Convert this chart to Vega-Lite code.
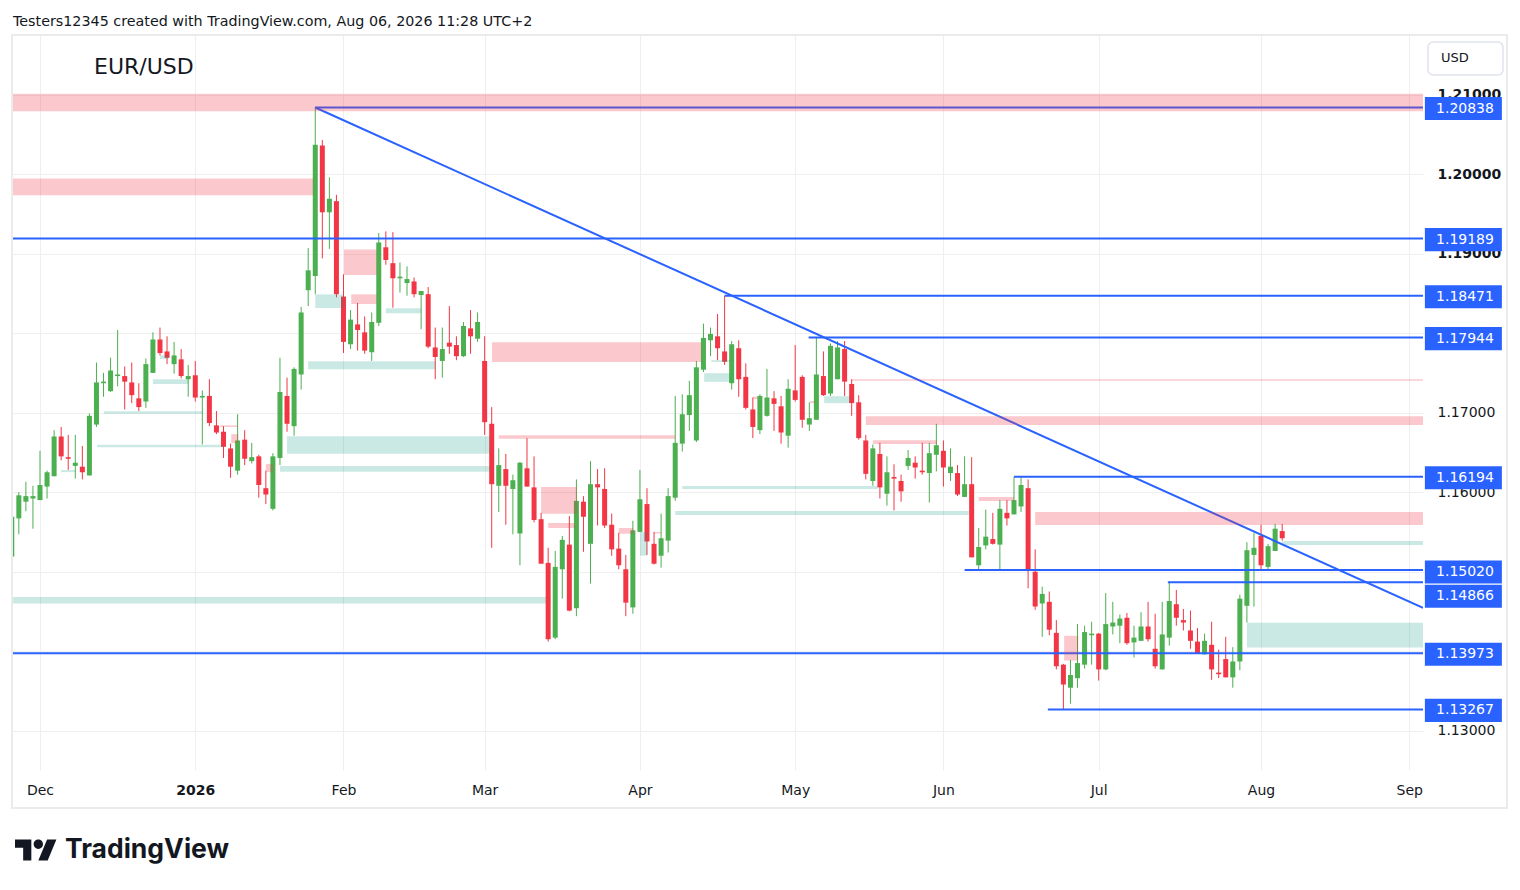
{
  "$schema": "https://vega.github.io/schema/vega-lite/v6.json",
  "width": 1411,
  "height": 735,
  "autosize": {"type": "none"},
  "padding": {"left": 12, "top": 35, "right": 97, "bottom": 120},
  "background": "white",
  "config": {"view": {"stroke": null}, "font": "DejaVu Sans"},
  "datasets": {
    "candles": [
      {"d":"2025-11-25","i":-4,"o":1.1519,"h":1.1569,"l":1.1519,"c":1.1569},
      {"d":"2025-11-26","i":-3,"o":1.1567,"h":1.1600,"l":1.1547,"c":1.1596},
      {"d":"2025-11-27","i":-2,"o":1.1588,"h":1.1613,"l":1.1576,"c":1.1595},
      {"d":"2025-11-28","i":-1,"o":1.1592,"h":1.1608,"l":1.1554,"c":1.1595},
      {"d":"2025-12-01","i":0,"o":1.1590,"h":1.1652,"l":1.1590,"c":1.1609},
      {"d":"2025-12-02","i":1,"o":1.1607,"h":1.1627,"l":1.1592,"c":1.1625},
      {"d":"2025-12-03","i":2,"o":1.1620,"h":1.1678,"l":1.1620,"c":1.1670},
      {"d":"2025-12-04","i":3,"o":1.1670,"h":1.1682,"l":1.1640,"c":1.1645},
      {"d":"2025-12-05","i":4,"o":1.1644,"h":1.1672,"l":1.1628,"c":1.1642},
      {"d":"2025-12-08","i":5,"o":1.1633,"h":1.1672,"l":1.1617,"c":1.1637},
      {"d":"2025-12-09","i":6,"o":1.1632,"h":1.1658,"l":1.1616,"c":1.1625},
      {"d":"2025-12-10","i":7,"o":1.1621,"h":1.1699,"l":1.1621,"c":1.1696},
      {"d":"2025-12-11","i":8,"o":1.1685,"h":1.1763,"l":1.1682,"c":1.1738},
      {"d":"2025-12-12","i":9,"o":1.1737,"h":1.1750,"l":1.1720,"c":1.1739},
      {"d":"2025-12-15","i":10,"o":1.1727,"h":1.1769,"l":1.1726,"c":1.1753},
      {"d":"2025-12-16","i":11,"o":1.1746,"h":1.1804,"l":1.1733,"c":1.1748},
      {"d":"2025-12-17","i":12,"o":1.1746,"h":1.1758,"l":1.1704,"c":1.1739},
      {"d":"2025-12-18","i":13,"o":1.1738,"h":1.1763,"l":1.1712,"c":1.1722},
      {"d":"2025-12-19","i":14,"o":1.1718,"h":1.1737,"l":1.1702,"c":1.1707},
      {"d":"2025-12-22","i":15,"o":1.1714,"h":1.1768,"l":1.1706,"c":1.1761},
      {"d":"2025-12-23","i":16,"o":1.1750,"h":1.1801,"l":1.1750,"c":1.1792},
      {"d":"2025-12-24","i":17,"o":1.1792,"h":1.1807,"l":1.1772,"c":1.1775},
      {"d":"2025-12-26","i":18,"o":1.1777,"h":1.1796,"l":1.1761,"c":1.1769},
      {"d":"2025-12-29","i":19,"o":1.1761,"h":1.1789,"l":1.1749,"c":1.1772},
      {"d":"2025-12-30","i":20,"o":1.1767,"h":1.1780,"l":1.1743,"c":1.1746},
      {"d":"2025-12-31","i":21,"o":1.1742,"h":1.1760,"l":1.1720,"c":1.1746},
      {"d":"2026-01-02","i":22,"o":1.1747,"h":1.1765,"l":1.1714,"c":1.1719},
      {"d":"2026-01-05","i":23,"o":1.1719,"h":1.1728,"l":1.1660,"c":1.1721},
      {"d":"2026-01-06","i":24,"o":1.1721,"h":1.1742,"l":1.1683,"c":1.1687},
      {"d":"2026-01-07","i":25,"o":1.1684,"h":1.1702,"l":1.1673,"c":1.1675},
      {"d":"2026-01-08","i":26,"o":1.1676,"h":1.1683,"l":1.1643,"c":1.1657},
      {"d":"2026-01-09","i":27,"o":1.1655,"h":1.1661,"l":1.1618,"c":1.1632},
      {"d":"2026-01-12","i":28,"o":1.1627,"h":1.1698,"l":1.1622,"c":1.1665},
      {"d":"2026-01-13","i":29,"o":1.1666,"h":1.1678,"l":1.1634,"c":1.1642},
      {"d":"2026-01-14","i":30,"o":1.1639,"h":1.1662,"l":1.1636,"c":1.1644},
      {"d":"2026-01-15","i":31,"o":1.1645,"h":1.1647,"l":1.1593,"c":1.1609},
      {"d":"2026-01-16","i":32,"o":1.1605,"h":1.1627,"l":1.1585,"c":1.1597},
      {"d":"2026-01-19","i":33,"o":1.1579,"h":1.1649,"l":1.1577,"c":1.1645},
      {"d":"2026-01-20","i":34,"o":1.1643,"h":1.1769,"l":1.1634,"c":1.1726},
      {"d":"2026-01-21","i":35,"o":1.1721,"h":1.1744,"l":1.1676,"c":1.1686},
      {"d":"2026-01-22","i":36,"o":1.1683,"h":1.1757,"l":1.1671,"c":1.1755},
      {"d":"2026-01-23","i":37,"o":1.1748,"h":1.1833,"l":1.1729,"c":1.1826},
      {"d":"2026-01-26","i":38,"o":1.1854,"h":1.1907,"l":1.1834,"c":1.1879},
      {"d":"2026-01-27","i":39,"o":1.1872,"h":1.2084,"l":1.1849,"c":1.2037},
      {"d":"2026-01-28","i":40,"o":1.2036,"h":1.2043,"l":1.1894,"c":1.1952},
      {"d":"2026-01-29","i":41,"o":1.1952,"h":1.1996,"l":1.1906,"c":1.1969},
      {"d":"2026-01-30","i":42,"o":1.1966,"h":1.1974,"l":1.1845,"c":1.1849},
      {"d":"2026-02-02","i":43,"o":1.1846,"h":1.1874,"l":1.1775,"c":1.1789},
      {"d":"2026-02-03","i":44,"o":1.1786,"h":1.1829,"l":1.1780,"c":1.1817},
      {"d":"2026-02-04","i":45,"o":1.1811,"h":1.1838,"l":1.1778,"c":1.1804},
      {"d":"2026-02-05","i":46,"o":1.1801,"h":1.1821,"l":1.1774,"c":1.1778},
      {"d":"2026-02-06","i":47,"o":1.1776,"h":1.1826,"l":1.1765,"c":1.1814},
      {"d":"2026-02-09","i":48,"o":1.1813,"h":1.1926,"l":1.1809,"c":1.1914},
      {"d":"2026-02-10","i":49,"o":1.1908,"h":1.1928,"l":1.1886,"c":1.1892},
      {"d":"2026-02-11","i":50,"o":1.1888,"h":1.1927,"l":1.1832,"c":1.1869},
      {"d":"2026-02-12","i":51,"o":1.1869,"h":1.1889,"l":1.1851,"c":1.1871},
      {"d":"2026-02-13","i":52,"o":1.1863,"h":1.1884,"l":1.1847,"c":1.1868},
      {"d":"2026-02-16","i":53,"o":1.1865,"h":1.1870,"l":1.1845,"c":1.1849},
      {"d":"2026-02-17","i":54,"o":1.1848,"h":1.1853,"l":1.1805,"c":1.1853},
      {"d":"2026-02-18","i":55,"o":1.1849,"h":1.1858,"l":1.1781,"c":1.1783},
      {"d":"2026-02-19","i":56,"o":1.1782,"h":1.1807,"l":1.1742,"c":1.1770},
      {"d":"2026-02-20","i":57,"o":1.1765,"h":1.1807,"l":1.1744,"c":1.1780},
      {"d":"2026-02-23","i":58,"o":1.1788,"h":1.1834,"l":1.1774,"c":1.1783},
      {"d":"2026-02-24","i":59,"o":1.1785,"h":1.1796,"l":1.1766,"c":1.1771},
      {"d":"2026-02-25","i":60,"o":1.1771,"h":1.1814,"l":1.1770,"c":1.1809},
      {"d":"2026-02-26","i":61,"o":1.1806,"h":1.1829,"l":1.1774,"c":1.1796},
      {"d":"2026-02-27","i":62,"o":1.1793,"h":1.1826,"l":1.1789,"c":1.1814},
      {"d":"2026-03-02","i":63,"o":1.1765,"h":1.1796,"l":1.1672,"c":1.1688},
      {"d":"2026-03-03","i":64,"o":1.1686,"h":1.1707,"l":1.1530,"c":1.1610},
      {"d":"2026-03-04","i":65,"o":1.1608,"h":1.1655,"l":1.1575,"c":1.1634},
      {"d":"2026-03-05","i":66,"o":1.1629,"h":1.1648,"l":1.1559,"c":1.1608},
      {"d":"2026-03-06","i":67,"o":1.1604,"h":1.1622,"l":1.1547,"c":1.1615},
      {"d":"2026-03-09","i":68,"o":1.1548,"h":1.1638,"l":1.1508,"c":1.1637},
      {"d":"2026-03-10","i":69,"o":1.1630,"h":1.1668,"l":1.1607,"c":1.1607},
      {"d":"2026-03-11","i":70,"o":1.1606,"h":1.1645,"l":1.1562,"c":1.1565},
      {"d":"2026-03-12","i":71,"o":1.1566,"h":1.1574,"l":1.1510,"c":1.1510},
      {"d":"2026-03-13","i":72,"o":1.1511,"h":1.1530,"l":1.1412,"c":1.1415},
      {"d":"2026-03-16","i":73,"o":1.1417,"h":1.1526,"l":1.1415,"c":1.1506},
      {"d":"2026-03-17","i":74,"o":1.1503,"h":1.1545,"l":1.1466,"c":1.1540},
      {"d":"2026-03-18","i":75,"o":1.1534,"h":1.1570,"l":1.1450,"c":1.1451},
      {"d":"2026-03-19","i":76,"o":1.1454,"h":1.1616,"l":1.1444,"c":1.1589},
      {"d":"2026-03-20","i":77,"o":1.1588,"h":1.1595,"l":1.1525,"c":1.1569},
      {"d":"2026-03-23","i":78,"o":1.1535,"h":1.1639,"l":1.1485,"c":1.1610},
      {"d":"2026-03-24","i":79,"o":1.1610,"h":1.1629,"l":1.1558,"c":1.1606},
      {"d":"2026-03-25","i":80,"o":1.1604,"h":1.1630,"l":1.1555,"c":1.1558},
      {"d":"2026-03-26","i":81,"o":1.1559,"h":1.1573,"l":1.1520,"c":1.1528},
      {"d":"2026-03-27","i":82,"o":1.1529,"h":1.1549,"l":1.1503,"c":1.1508},
      {"d":"2026-03-30","i":83,"o":1.1503,"h":1.1521,"l":1.1444,"c":1.1461},
      {"d":"2026-03-31","i":84,"o":1.1455,"h":1.1564,"l":1.1447,"c":1.1552},
      {"d":"2026-04-01","i":85,"o":1.1550,"h":1.1628,"l":1.1550,"c":1.1591},
      {"d":"2026-04-02","i":86,"o":1.1585,"h":1.1605,"l":1.1521,"c":1.1538},
      {"d":"2026-04-03","i":87,"o":1.1535,"h":1.1550,"l":1.1509,"c":1.1510},
      {"d":"2026-04-06","i":88,"o":1.1520,"h":1.1573,"l":1.1505,"c":1.1542},
      {"d":"2026-04-07","i":89,"o":1.1539,"h":1.1605,"l":1.1524,"c":1.1595},
      {"d":"2026-04-08","i":90,"o":1.1593,"h":1.1721,"l":1.1589,"c":1.1662},
      {"d":"2026-04-09","i":91,"o":1.1661,"h":1.1723,"l":1.1651,"c":1.1698},
      {"d":"2026-04-10","i":92,"o":1.1697,"h":1.1740,"l":1.1677,"c":1.1722},
      {"d":"2026-04-13","i":93,"o":1.1665,"h":1.1765,"l":1.1663,"c":1.1757},
      {"d":"2026-04-14","i":94,"o":1.1754,"h":1.1812,"l":1.1751,"c":1.1794},
      {"d":"2026-04-15","i":95,"o":1.1791,"h":1.1807,"l":1.1771,"c":1.1799},
      {"d":"2026-04-16","i":96,"o":1.1796,"h":1.1824,"l":1.1766,"c":1.1781},
      {"d":"2026-04-17","i":97,"o":1.1777,"h":1.1847,"l":1.1760,"c":1.1764},
      {"d":"2026-04-20","i":98,"o":1.1737,"h":1.1790,"l":1.1729,"c":1.1786},
      {"d":"2026-04-21","i":99,"o":1.1781,"h":1.1791,"l":1.1720,"c":1.1742},
      {"d":"2026-04-22","i":100,"o":1.1745,"h":1.1762,"l":1.1704,"c":1.1706},
      {"d":"2026-04-23","i":101,"o":1.1704,"h":1.1719,"l":1.1668,"c":1.1682},
      {"d":"2026-04-24","i":102,"o":1.1678,"h":1.1723,"l":1.1673,"c":1.1721},
      {"d":"2026-04-27","i":103,"o":1.1696,"h":1.1755,"l":1.1695,"c":1.1719},
      {"d":"2026-04-28","i":104,"o":1.1718,"h":1.1727,"l":1.1677,"c":1.1711},
      {"d":"2026-04-29","i":105,"o":1.1708,"h":1.1721,"l":1.1661,"c":1.1675},
      {"d":"2026-04-30","i":106,"o":1.1671,"h":1.1742,"l":1.1656,"c":1.1730},
      {"d":"2026-05-01","i":107,"o":1.1728,"h":1.1785,"l":1.1714,"c":1.1716},
      {"d":"2026-05-04","i":108,"o":1.1745,"h":1.1747,"l":1.1681,"c":1.1691},
      {"d":"2026-05-05","i":109,"o":1.1685,"h":1.1713,"l":1.1677,"c":1.1693},
      {"d":"2026-05-06","i":110,"o":1.1691,"h":1.1794,"l":1.1691,"c":1.1748},
      {"d":"2026-05-07","i":111,"o":1.1746,"h":1.1777,"l":1.1721,"c":1.1722},
      {"d":"2026-05-08","i":112,"o":1.1724,"h":1.1787,"l":1.1721,"c":1.1784},
      {"d":"2026-05-11","i":113,"o":1.1742,"h":1.1790,"l":1.1742,"c":1.1782},
      {"d":"2026-05-12","i":114,"o":1.1780,"h":1.1790,"l":1.1721,"c":1.1739},
      {"d":"2026-05-13","i":115,"o":1.1736,"h":1.1742,"l":1.1696,"c":1.1712},
      {"d":"2026-05-14","i":116,"o":1.1713,"h":1.1722,"l":1.1666,"c":1.1668},
      {"d":"2026-05-15","i":117,"o":1.1665,"h":1.1672,"l":1.1616,"c":1.1623},
      {"d":"2026-05-18","i":118,"o":1.1614,"h":1.1660,"l":1.1608,"c":1.1655},
      {"d":"2026-05-19","i":119,"o":1.1648,"h":1.1662,"l":1.1592,"c":1.1606},
      {"d":"2026-05-20","i":120,"o":1.1598,"h":1.1645,"l":1.1583,"c":1.1625},
      {"d":"2026-05-21","i":121,"o":1.1619,"h":1.1635,"l":1.1577,"c":1.1617},
      {"d":"2026-05-22","i":122,"o":1.1614,"h":1.1622,"l":1.1588,"c":1.1601},
      {"d":"2026-05-25","i":123,"o":1.1633,"h":1.1653,"l":1.1628,"c":1.1643},
      {"d":"2026-05-26","i":124,"o":1.1637,"h":1.1645,"l":1.1617,"c":1.1631},
      {"d":"2026-05-27","i":125,"o":1.1627,"h":1.1662,"l":1.1622,"c":1.1625},
      {"d":"2026-05-28","i":126,"o":1.1624,"h":1.1662,"l":1.1587,"c":1.1649},
      {"d":"2026-05-29","i":127,"o":1.1647,"h":1.1686,"l":1.1626,"c":1.1659},
      {"d":"2026-06-01","i":128,"o":1.1652,"h":1.1665,"l":1.1607,"c":1.1631},
      {"d":"2026-06-02","i":129,"o":1.1624,"h":1.1655,"l":1.1614,"c":1.1632},
      {"d":"2026-06-03","i":130,"o":1.1624,"h":1.1634,"l":1.1595,"c":1.1597},
      {"d":"2026-06-04","i":131,"o":1.1594,"h":1.1645,"l":1.1594,"c":1.1610},
      {"d":"2026-06-05","i":132,"o":1.1610,"h":1.1644,"l":1.1518,"c":1.1518},
      {"d":"2026-06-08","i":133,"o":1.1508,"h":1.1555,"l":1.1502,"c":1.1531},
      {"d":"2026-06-09","i":134,"o":1.1533,"h":1.1578,"l":1.1528,"c":1.1544},
      {"d":"2026-06-10","i":135,"o":1.1541,"h":1.1574,"l":1.1534,"c":1.1535},
      {"d":"2026-06-11","i":136,"o":1.1534,"h":1.1590,"l":1.1502,"c":1.1579},
      {"d":"2026-06-12","i":137,"o":1.1574,"h":1.1590,"l":1.1558,"c":1.1567},
      {"d":"2026-06-15","i":138,"o":1.1572,"h":1.1619,"l":1.1572,"c":1.1590},
      {"d":"2026-06-16","i":139,"o":1.1582,"h":1.1619,"l":1.1575,"c":1.1609},
      {"d":"2026-06-17","i":140,"o":1.1605,"h":1.1616,"l":1.1479,"c":1.1501},
      {"d":"2026-06-18","i":141,"o":1.1500,"h":1.1528,"l":1.1452,"c":1.1456},
      {"d":"2026-06-19","i":142,"o":1.1460,"h":1.1481,"l":1.1418,"c":1.1472},
      {"d":"2026-06-22","i":143,"o":1.1462,"h":1.1475,"l":1.1420,"c":1.1427},
      {"d":"2026-06-23","i":144,"o":1.1423,"h":1.1439,"l":1.1377,"c":1.1381},
      {"d":"2026-06-24","i":145,"o":1.1383,"h":1.1384,"l":1.1327,"c":1.1358},
      {"d":"2026-06-25","i":146,"o":1.1354,"h":1.1389,"l":1.1334,"c":1.1370},
      {"d":"2026-06-26","i":147,"o":1.1366,"h":1.1434,"l":1.1354,"c":1.1385},
      {"d":"2026-06-29","i":148,"o":1.1383,"h":1.1432,"l":1.1378,"c":1.1424},
      {"d":"2026-06-30","i":149,"o":1.1420,"h":1.1437,"l":1.1383,"c":1.1422},
      {"d":"2026-07-01","i":150,"o":1.1422,"h":1.1423,"l":1.1363,"c":1.1377},
      {"d":"2026-07-02","i":151,"o":1.1377,"h":1.1473,"l":1.1376,"c":1.1434},
      {"d":"2026-07-03","i":152,"o":1.1431,"h":1.1462,"l":1.1421,"c":1.1436},
      {"d":"2026-07-06","i":153,"o":1.1432,"h":1.1446,"l":1.1410,"c":1.1441},
      {"d":"2026-07-07","i":154,"o":1.1442,"h":1.1448,"l":1.1408,"c":1.1410},
      {"d":"2026-07-08","i":155,"o":1.1411,"h":1.1432,"l":1.1392,"c":1.1417},
      {"d":"2026-07-09","i":156,"o":1.1413,"h":1.1449,"l":1.1413,"c":1.1431},
      {"d":"2026-07-10","i":157,"o":1.1431,"h":1.1462,"l":1.1412,"c":1.1415},
      {"d":"2026-07-13","i":158,"o":1.1403,"h":1.1447,"l":1.1378,"c":1.1381},
      {"d":"2026-07-14","i":159,"o":1.1377,"h":1.1462,"l":1.1377,"c":1.1421},
      {"d":"2026-07-15","i":160,"o":1.1417,"h":1.1487,"l":1.1407,"c":1.1463},
      {"d":"2026-07-16","i":161,"o":1.1459,"h":1.1477,"l":1.1432,"c":1.1442},
      {"d":"2026-07-17","i":162,"o":1.1439,"h":1.1453,"l":1.1426,"c":1.1436},
      {"d":"2026-07-20","i":163,"o":1.1426,"h":1.1451,"l":1.1403,"c":1.1413},
      {"d":"2026-07-21","i":164,"o":1.1412,"h":1.1429,"l":1.1397,"c":1.1397},
      {"d":"2026-07-22","i":165,"o":1.1396,"h":1.1422,"l":1.1396,"c":1.1413},
      {"d":"2026-07-23","i":166,"o":1.1408,"h":1.1437,"l":1.1364,"c":1.1377},
      {"d":"2026-07-24","i":167,"o":1.1373,"h":1.1402,"l":1.1366,"c":1.1371},
      {"d":"2026-07-27","i":168,"o":1.1390,"h":1.1418,"l":1.1367,"c":1.1367},
      {"d":"2026-07-28","i":169,"o":1.1367,"h":1.1405,"l":1.1354,"c":1.1387},
      {"d":"2026-07-29","i":170,"o":1.1387,"h":1.1471,"l":1.1376,"c":1.1466},
      {"d":"2026-07-30","i":171,"o":1.1457,"h":1.1537,"l":1.1436,"c":1.1527},
      {"d":"2026-07-31","i":172,"o":1.1521,"h":1.1549,"l":1.1456,"c":1.1530},
      {"d":"2026-08-03","i":173,"o":1.1545,"h":1.1559,"l":1.1501,"c":1.1508},
      {"d":"2026-08-04","i":174,"o":1.1506,"h":1.1535,"l":1.1502,"c":1.1532},
      {"d":"2026-08-05","i":175,"o":1.1526,"h":1.1560,"l":1.1526,"c":1.1554},
      {"d":"2026-08-06","i":176,"o":1.1551,"h":1.1560,"l":1.1539,"c":1.1542}
    ],
    "zones": [
      {"k":"s","a":-3.967,"b":195.95,"t":1.2101,"bo":1.2079},
      {"k":"s","a":-3.967,"b":38.7,"t":1.19945,"bo":1.19735},
      {"k":"s","a":43.07,"b":47.7,"t":1.19053,"bo":1.1873},
      {"k":"s","a":44.1,"b":47.7,"t":1.18488,"bo":1.18366},
      {"k":"s","a":64.04,"b":93.7,"t":1.17885,"bo":1.17638},
      {"k":"s","a":65.0,"b":90.0,"t":1.16717,"bo":1.16671},
      {"k":"s","a":71.0,"b":76.1,"t":1.16064,"bo":1.15729},
      {"k":"s","a":72.0,"b":75.8,"t":1.15612,"bo":1.15549},
      {"k":"s","a":82.0,"b":84.1,"t":1.15549,"bo":1.15477},
      {"k":"s","a":87.0,"b":88.0,"t":1.1550,"bo":1.1548},
      {"k":"s","a":101.0,"b":101.7,"t":1.1720,"bo":1.1717},
      {"k":"s","a":109.1,"b":109.8,"t":1.17145,"bo":1.1712},
      {"k":"s","a":115.0,"b":195.95,"t":1.1742,"bo":1.1740},
      {"k":"s","a":117.0,"b":195.95,"t":1.16956,"bo":1.16843},
      {"k":"s","a":118.0,"b":127.1,"t":1.16654,"bo":1.16604},
      {"k":"s","a":133.0,"b":138.0,"t":1.15938,"bo":1.15888},
      {"k":"s","a":141.0,"b":195.95,"t":1.1575,"bo":1.15587},
      {"k":"s","a":145.1,"b":147.1,"t":1.14193,"bo":1.13882},
      {"k":"s","a":25.5,"b":28.0,"t":1.1684,"bo":1.1682},
      {"k":"s","a":27.1,"b":28.1,"t":1.1673,"bo":1.16617},
      {"k":"s","a":32.0,"b":33.0,"t":1.16353,"bo":1.16252},
      {"k":"d","a":3.0,"b":5.0,"t":1.16278,"bo":1.16252},
      {"k":"d","a":9.07,"b":23.0,"t":1.17018,"bo":1.16985},
      {"k":"d","a":8.08,"b":26.0,"t":1.16595,"bo":1.16566},
      {"k":"d","a":16.0,"b":21.0,"t":1.1742,"bo":1.1736},
      {"k":"d","a":17.0,"b":18.2,"t":1.17722,"bo":1.17675},
      {"k":"d","a":39.0,"b":43.0,"t":1.18488,"bo":1.18316},
      {"k":"d","a":38.0,"b":56.0,"t":1.17646,"bo":1.17546},
      {"k":"d","a":49.0,"b":54.0,"t":1.18312,"bo":1.1825},
      {"k":"d","a":35.0,"b":63.76,"t":1.16704,"bo":1.16482},
      {"k":"d","a":34.0,"b":63.76,"t":1.16328,"bo":1.16256},
      {"k":"d","a":-3.967,"b":71.7,"t":1.14682,"bo":1.14598},
      {"k":"d","a":85.0,"b":86.0,"t":1.15499,"bo":1.15201},
      {"k":"d","a":95.1,"b":97.8,"t":1.1766,"bo":1.17638},
      {"k":"d","a":94.1,"b":97.8,"t":1.17496,"bo":1.17387},
      {"k":"d","a":91.0,"b":118.7,"t":1.16076,"bo":1.16039},
      {"k":"d","a":90.0,"b":131.6,"t":1.15762,"bo":1.15712},
      {"k":"d","a":111.1,"b":114.8,"t":1.17207,"bo":1.17119},
      {"k":"d","a":171.0,"b":195.95,"t":1.14356,"bo":1.14046},
      {"k":"d","a":176.0,"b":195.95,"t":1.15386,"bo":1.15336}
    ],
    "levels": [
      {"p":1.20838,"a":39,"b":195.95},
      {"p":1.19189,"a":-3.967,"b":195.95},
      {"p":1.18471,"a":97,"b":195.95},
      {"p":1.17944,"a":108.9,"b":195.95},
      {"p":1.16194,"a":138,"b":195.95},
      {"p":1.15020,"a":131,"b":195.95},
      {"p":1.14866,"a":159.8,"b":195.95},
      {"p":1.13973,"a":-3.967,"b":195.95},
      {"p":1.13267,"a":142.8,"b":195.95}
    ],
    "trend": [
      {"a":39,"p1":1.20838,"b":195.95,"p2":1.14544}
    ]
  },
  "layer": [
    {
      "data": {"name": "candles"},
      "mark": {"type": "rule", "strokeWidth": 1, "clip": true},
      "encoding": {
        "x": {
          "field": "i", "type": "quantitative",
          "scale": {"domain": [-3.967, 195.95], "nice": false, "zero": false, "padding": 0},
          "axis": {
            "title": null,
            "values": [0, 22, 43, 63, 85, 107, 128, 150, 173, 194],
            "labelExpr": "{'0':'Dec','22':'2026','43':'Feb','63':'Mar','85':'Apr','107':'May','128':'Jun','150':'Jul','173':'Aug','194':'Sep'}[datum.value]",
            "grid": true, "gridColor": "#efefef", "gridWidth": 1,
            "domain": false, "ticks": false, "tickSize": 0,
            "labelPadding": 20, "labelBaseline": "middle",
            "labelFontSize": 14, "labelColor": "#131722",
            "labelFlush": false, "labelOverlap": false,
            "labelFontWeight": {"condition": {"test": "datum.value === 22", "value": "bold"}, "value": "normal"}
          }
        },
        "y": {
          "field": "l", "type": "quantitative",
          "scale": {"domain": [1.12505, 1.2175], "nice": false, "zero": false, "padding": 0},
          "axis": {
            "title": null, "orient": "right",
            "values": [1.13, 1.14, 1.15, 1.16, 1.17, 1.18, 1.19, 1.2, 1.21],
            "labelExpr": "datum.value == 1.18 || datum.value == 1.15 || datum.value == 1.14 ? '' : format(datum.value, '.5f')",
            "grid": true, "gridColor": "#efefef", "gridWidth": 1,
            "domain": false, "ticks": false, "tickSize": 0,
            "labelPadding": 14, "labelAlign": "left", "labelBaseline": "middle",
            "labelFontSize": 14, "labelColor": "#131722", "labelOverlap": false,
            "labelFontWeight": {"condition": {"test": "datum.value >= 1.185", "value": "bold"}, "value": "normal"}
          }
        },
        "y2": {"field": "h"},
        "color": {"condition": {"test": "datum.c >= datum.o", "value": "#4caf50"}, "value": "#f23645"}
      }
    },
    {
      "data": {"name": "candles"},
      "mark": {"type": "bar", "width": 5, "clip": true},
      "encoding": {
        "x": {"field": "i", "type": "quantitative", "title": null},
        "y": {"field": "o", "type": "quantitative", "title": null},
        "y2": {"field": "c"},
        "color": {"condition": {"test": "datum.c >= datum.o", "value": "#4caf50"}, "value": "#f23645"}
      }
    },
    {
      "data": {"name": "levels"},
      "mark": {"type": "rule", "strokeWidth": 2, "color": "#2962ff", "clip": true},
      "encoding": {
        "x": {"field": "a", "type": "quantitative", "title": null},
        "x2": {"field": "b"},
        "y": {"field": "p", "type": "quantitative", "title": null}
      }
    },
    {
      "data": {"name": "trend"},
      "mark": {"type": "rule", "strokeWidth": 2, "color": "#2962ff", "clip": true},
      "encoding": {
        "x": {"field": "a", "type": "quantitative", "title": null},
        "x2": {"field": "b"},
        "y": {"field": "p1", "type": "quantitative", "title": null},
        "y2": {"field": "p2"}
      }
    },
    {
      "data": {"name": "zones"},
      "mark": {"type": "rect", "clip": true},
      "encoding": {
        "x": {"field": "a", "type": "quantitative", "title": null},
        "x2": {"field": "b"},
        "y": {"field": "t", "type": "quantitative", "title": null},
        "y2": {"field": "bo"},
        "color": {"field": "k", "type": "nominal", "scale": {"domain": ["s", "d"], "range": ["#f23645", "#089981"]}, "legend": null},
        "opacity": {"field": "k", "type": "nominal", "scale": {"domain": ["s", "d"], "range": [0.27, 0.21]}, "legend": null}
      }
    },
    {
      "data": {"name": "levels"},
      "mark": {"type": "point", "shape": "M-1,-0.3L1,-0.3L1,0.3L-1,0.3Z", "size": 5929, "filled": true, "opacity": 1, "color": "#2962ff", "yOffset": {"expr": "datum.p == 1.14866 ? 14 : (datum.p == 1.1502 ? 2 : 1)"}},
      "encoding": {
        "x": {"datum": 201.67, "type": "quantitative", "title": null},
        "y": {"field": "p", "type": "quantitative", "title": null}
      }
    },
    {
      "data": {"name": "levels"},
      "mark": {"type": "text", "align": "center", "baseline": "middle", "fontSize": 14, "color": "white", "yOffset": {"expr": "datum.p == 1.14866 ? 14 : (datum.p == 1.1502 ? 2 : 1)"}},
      "encoding": {
        "x": {"datum": 201.9, "type": "quantitative", "title": null},
        "y": {"field": "p", "type": "quantitative", "title": null},
        "text": {"field": "p", "format": ".5f"}
      }
    },
    {
      "data": {"values": [{"label": "USD"}]},
      "mark": {"type": "rect", "fill": "white", "stroke": "#e0e3eb", "strokeWidth": 1.5, "cornerRadius": 5},
      "encoding": {
        "x": {"datum": 196.66, "type": "quantitative", "title": null},
        "x2": {"datum": 207.28},
        "y": {"datum": 1.21662, "type": "quantitative", "title": null},
        "y2": {"datum": 1.21247}
      }
    },
    {
      "data": {"values": [{"label": "USD"}]},
      "mark": {"type": "text", "align": "left", "baseline": "middle", "fontSize": 13, "color": "#131722"},
      "encoding": {
        "x": {"datum": 198.51, "type": "quantitative", "title": null},
        "y": {"datum": 1.21461, "type": "quantitative", "title": null},
        "text": {"field": "label"}
      }
    },
    {
      "data": {"values": [{"label": "EUR/USD"}]},
      "mark": {"type": "text", "align": "left", "baseline": "middle", "fontSize": 22, "color": "#131722"},
      "encoding": {
        "x": {"datum": 7.65, "type": "quantitative", "title": null},
        "y": {"datum": 1.21347, "type": "quantitative", "title": null},
        "text": {"field": "label"}
      }
    },
    {
      "data": {"values": [{"label": "Testers12345 created with TradingView.com, Aug 06, 2026 11:28 UTC+2"}]},
      "mark": {"type": "text", "align": "left", "baseline": "middle", "fontSize": 14.3, "color": "#131722"},
      "encoding": {
        "x": {"datum": -3.825, "type": "quantitative", "title": null},
        "y": {"datum": 1.21915, "type": "quantitative", "title": null},
        "text": {"field": "label"}
      }
    },
    {
      "data": {"values": [{"label": "frame"}]},
      "mark": {"type": "rect", "fillOpacity": 0, "stroke": "#ebebeb", "strokeWidth": 2},
      "encoding": {
        "x": {"datum": -3.967, "type": "quantitative", "title": null},
        "x2": {"datum": 207.85},
        "y": {"datum": 1.2175, "type": "quantitative", "title": null},
        "y2": {"datum": 1.12027}
      }
    },
    {
      "data": {"values": [{"label": "TradingView"}]},
      "mark": {"type": "point", "shape": "M-1,-0.5L-0.222,-0.5L-0.222,0.5L-0.611,0.5L-0.611,-0.111L-1,-0.111Z M0.556,0.5L0.111,0.5L0.528,-0.5L0.972,-0.5Z M-0.111,-0.278A0.222,0.222 0 1,0 0.333,-0.278A0.222,0.222 0 1,0 -0.111,-0.278Z", "size": 1764, "filled": true, "opacity": 1, "color": "#131722"},
      "encoding": {
        "x": {"datum": -0.567, "type": "quantitative", "title": null},
        "y": {"datum": 1.11498, "type": "quantitative", "title": null}
      }
    },
    {
      "data": {"values": [{"label": "TradingView"}]},
      "mark": {"type": "text", "align": "left", "baseline": "middle", "fontSize": 26.5, "font": "Inter", "fontWeight": "bold", "color": "#131722"},
      "encoding": {
        "x": {"datum": 3.54, "type": "quantitative", "title": null},
        "y": {"datum": 1.11498, "type": "quantitative", "title": null},
        "text": {"field": "label"}
      }
    }
  ]
}
